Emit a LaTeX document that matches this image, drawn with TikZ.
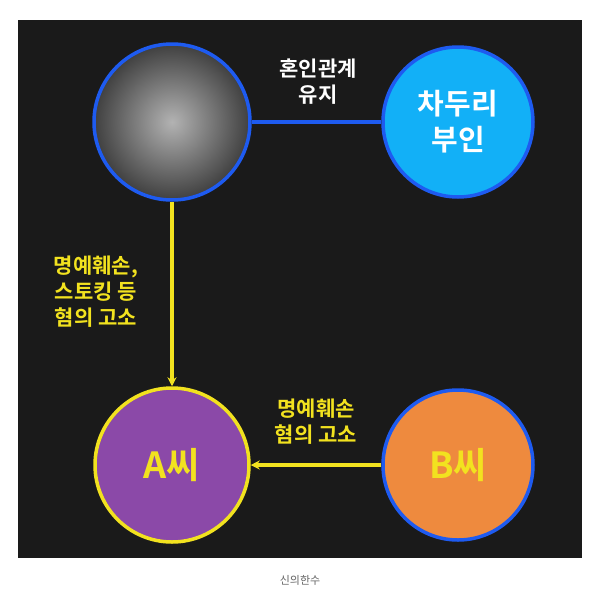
\documentclass[tikz,border=0pt]{standalone}
\usepackage{fontspec}
\setmainfont{Noto Sans CJK KR}[BoldFont={Noto Sans CJK KR Bold}]
\usetikzlibrary{arrows.meta}
\begin{document}
\begin{tikzpicture}[x=1pt,y=-1pt,
  circ/.style={circle,minimum size=#1,inner sep=0pt,line width=3.5pt},
  lbl/.style={font=\bfseries\fontsize{21}{26}\selectfont,align=center},
  conn/.style={line width=3.2pt}]
\definecolor{bg}{HTML}{1A1A1A}
\definecolor{ylw}{HTML}{F2E21F}
\definecolor{bl}{HTML}{1E5BF0}
\definecolor{cy}{HTML}{12B0F7}
\definecolor{pu}{HTML}{8B49A8}
\definecolor{og}{HTML}{EE8A3E}
\useasboundingbox (0,0) rectangle (600,600);
\fill[white] (0,0) rectangle (600,600);
\fill[bg] (18,20) rectangle (582,558);
\node[circ=156pt,draw=bl,fill=black!55,inner color=black!30,outer color=black!75] (p) at (172,122) {};
\node[circ=150pt,draw=bl,fill=cy,text=white,font=\bfseries\fontsize{29}{36}\selectfont,align=center] (w) at (458,122) {차두리\\부인};
\node[circ=154pt,draw=ylw,fill=pu,text=ylw,font=\bfseries\fontsize{36}{40}\selectfont] (a) at (172,465) {A씨};
\node[circ=150pt,draw=bl,fill=og,text=ylw,font=\bfseries\fontsize{36}{40}\selectfont] (b) at (458,465) {B씨};
\draw[conn,bl] (p) -- (w);
\draw[conn,ylw,-{Stealth[length=9pt,width=9pt]}] (p) -- (a);
\draw[conn,ylw,-{Stealth[length=9pt,width=9pt]}] (b) -- (a);
\node[lbl,text=white] (l1) at (318,82) {혼인관계\\유지};
\node[lbl,text=ylw] (l2) at (96,292) {명예훼손,\\스토킹 등\\혐의 고소};
\node[lbl,text=ylw] (l3) at (316,422) {명예훼손\\혐의 고소};
\node[text=black!60,font=\fontsize{11}{13}\selectfont] (c) at (300,580) {신의한수};
\end{tikzpicture}
\end{document}
